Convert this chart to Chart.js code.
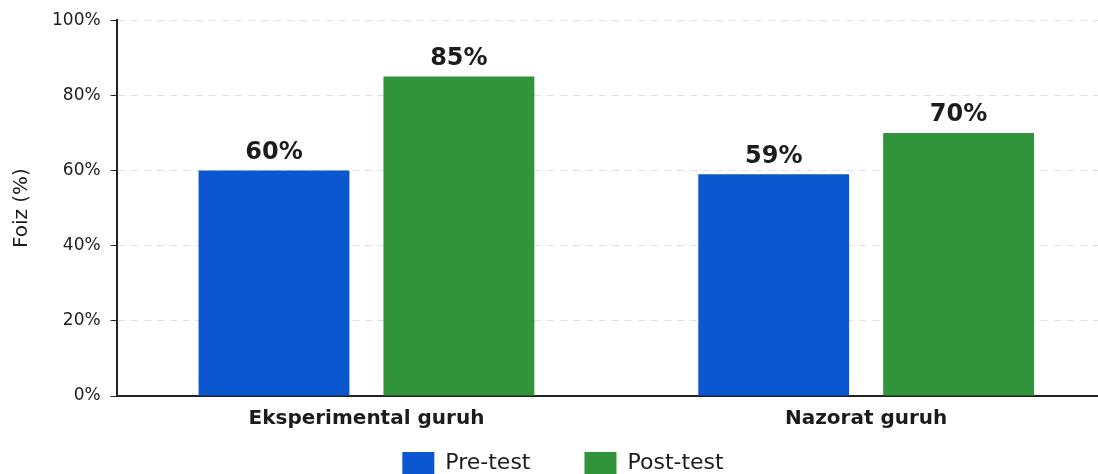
<!DOCTYPE html>
<html>
<head>
<meta charset="utf-8">
<script src="https://cdn.jsdelivr.net/npm/chart.js@4/dist/chart.umd.min.js"></script>
<style>
  html, body { margin: 0; padding: 0; background: #fff; overflow: hidden; }
  #wrap { width: 1116px; height: 520px; position: relative; }
</style>
</head>
<body>
<div id="wrap"><canvas id="barChart"></canvas></div>
<script>
// Chart data
const groups = ["Eksperimental guruh", "Nazorat guruh"];
const preTest = [60, 59];
const postTest = [85, 70];
const yTicks = [0, 20, 40, 60, 80, 100];

const FONT = "'DejaVu Sans', sans-serif";
const TEXT = "#1c1c1c";

// Draw the value labels above each bar
const valueLabels = {
    id: "valueLabels",
    afterDatasetsDraw(chart) {
        const ctx = chart.ctx;
        ctx.save();
        ctx.font = "bold 24px " + FONT;
        ctx.fillStyle = TEXT;
        ctx.textAlign = "center";
        ctx.textBaseline = "bottom";
        chart.data.datasets.forEach((ds, i) => {
            chart.getDatasetMeta(i).data.forEach((bar, j) => {
                ctx.fillText(ds.data[j] + "%", bar.x, bar.y - 6);
            });
        });
        ctx.restore();
    },
};

// Wide gap between legend items, but keep the legend close to the axis labels
const legendShift = {
    id: "legendShift",
    afterLayout(chart) {
        const lg = chart.legend;
        lg.top -= 36;
        lg.bottom -= 36;
    },
};

const ctx = document.getElementById("barChart").getContext("2d");
new Chart(ctx, {
    type: "bar",
    data: {
        labels: groups,
        datasets: [
            {
                label: "Pre-test",
                data: preTest,
                backgroundColor: "#0b57cf",
            },
            {
                label: "Post-test",
                data: postTest,
                backgroundColor: "#31943a",
            },
        ],
    },
    options: {
        responsive: true,
        maintainAspectRatio: false,
        animation: false,
        categoryPercentage: 0.74,
        barPercentage: 0.816,
        layout: { padding: { left: 10, right: 0, top: 20, bottom: 0 } },
        plugins: {
            tooltip: { enabled: false },
            legend: {
                position: "bottom",
                labels: {
                    boxWidth: 32,
                    boxHeight: 22,
                    padding: 54,
                    color: TEXT,
                    font: { family: FONT, size: 22 },
                },
            },
        },
        scales: {
            x: {
                grid: { display: false },
                border: { display: true, color: "#222", width: 2 },
                ticks: {
                    color: TEXT,
                    padding: 3,
                    font: { family: FONT, size: 20, weight: "600" },
                },
            },
            y: {
                min: 0,
                max: 100,
                afterBuildTicks: (axis) => {
                    axis.ticks = yTicks.map((v) => ({ value: v }));
                },
                border: { display: true, color: "#222", width: 2, dash: [7, 6] },
                grid: {
                    color: "#e0e0e0",
                    tickColor: "#222",
                    tickLength: 6,
                    tickBorderDash: [],
                },
                ticks: {
                    color: TEXT,
                    padding: 10,
                    font: { family: FONT, size: 17 },
                    callback: (v) => v + "%",
                },
                title: {
                    display: true,
                    text: "Foiz (%)",
                    color: TEXT,
                    padding: { top: 0, bottom: 8 },
                    font: { family: FONT, size: 20 },
                },
            },
        },
    },
    plugins: [valueLabels, legendShift],
});
</script>
</body>
</html>
